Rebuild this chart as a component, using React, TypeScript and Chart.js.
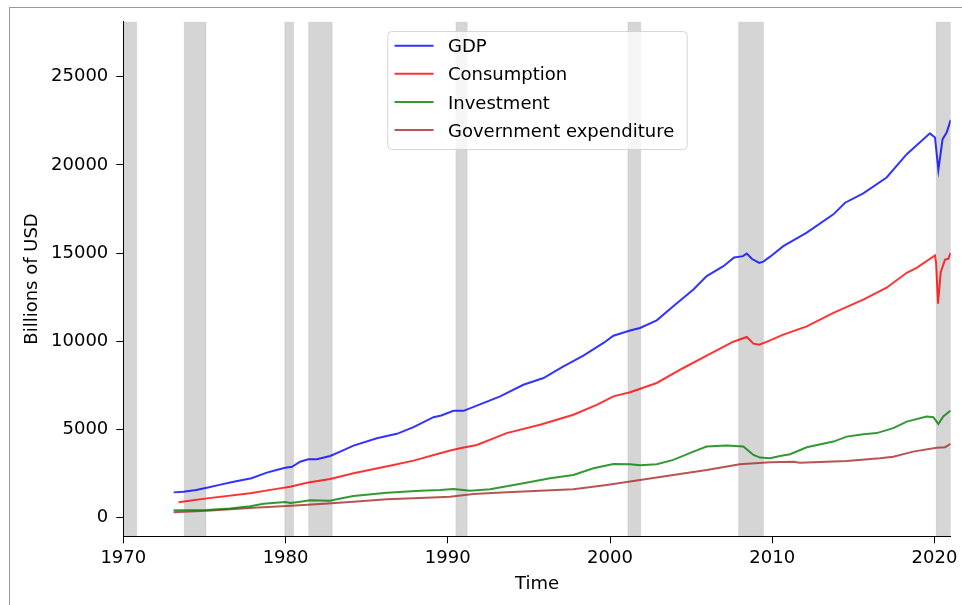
import React, { useEffect, useRef } from "react";
import { Chart, registerables } from "chart.js";

Chart.register(...registerables);

// Quarterly-ish readings, billions of USD: [year, value]
const gdp: [number, number][] = [
  [1973.1, 1440], [1973.7, 1480], [1974.5, 1570], [1975.15, 1700], [1976.0, 1880],
  [1976.8, 2040], [1977.9, 2240], [1978.85, 2560], [1979.5, 2720], [1979.98, 2840],
  [1980.4, 2890], [1980.9, 3180], [1981.4, 3320], [1981.93, 3320], [1982.75, 3500],
  [1983.37, 3750], [1984.19, 4090], [1985.63, 4510], [1986.86, 4760], [1987.89, 5140],
  [1989.12, 5700], [1989.6, 5800], [1990.35, 6060], [1990.97, 6060], [1991.79, 6360],
  [1993.23, 6880], [1994.66, 7540], [1995.9, 7920], [1997.13, 8580], [1998.36, 9190],
  [1999.6, 9910], [2000.21, 10320], [2001.24, 10620], [2001.85, 10760], [2002.88, 11190],
  [2003.9, 11990], [2005.14, 12940], [2005.96, 13700], [2006.99, 14260], [2007.65, 14760],
  [2008.2, 14830], [2008.43, 14980], [2008.74, 14680], [2009.2, 14450], [2009.45, 14520],
  [2009.87, 14800], [2010.68, 15400], [2012.13, 16160], [2013.77, 17200], [2014.49, 17860],
  [2015.61, 18390], [2017.05, 19290], [2018.29, 20610], [2019.72, 21790], [2020.03, 21560],
  [2020.24, 19720], [2020.5, 21460], [2020.75, 21840], [2021.0, 22560],
];

const consumption: [number, number][] = [
  [1973.41, 875], [1975.15, 1100], [1977.82, 1390], [1979.26, 1610], [1980.29, 1760],
  [1981.32, 1990], [1982.75, 2200], [1984.19, 2520], [1986.65, 2990], [1987.89, 3240],
  [1989.53, 3660], [1990.15, 3810], [1990.76, 3940], [1991.79, 4130], [1993.63, 4800],
  [1995.69, 5270], [1997.74, 5840], [1999.18, 6400], [2000.21, 6880], [2001.24, 7120],
  [2002.88, 7640], [2004.52, 8490], [2005.96, 9190], [2007.6, 9980], [2008.43, 10250],
  [2008.84, 9870], [2009.21, 9810], [2009.87, 10060], [2010.68, 10380], [2012.13, 10850],
  [2013.77, 11610], [2015.61, 12370], [2017.05, 13040], [2018.29, 13890], [2018.9, 14170],
  [2020.03, 14870], [2020.1, 14450], [2020.22, 12140], [2020.38, 13890], [2020.65, 14640],
  [2020.85, 14680], [2021.0, 15020],
];

const investment: [number, number][] = [
  [1973.1, 420], [1975.15, 440], [1976.59, 530], [1977.82, 650], [1978.64, 795],
  [1979.98, 890], [1980.29, 835], [1980.8, 900], [1981.52, 990], [1982.75, 965],
  [1983.16, 1045], [1984.19, 1230], [1986.24, 1420], [1988.3, 1530], [1989.53, 1575],
  [1990.35, 1630], [1991.38, 1535], [1992.61, 1615], [1994.66, 1955], [1996.31, 2240],
  [1997.74, 2430], [1998.98, 2810], [2000.21, 3050], [2001.24, 3035], [2001.85, 2980],
  [2002.88, 3035], [2003.9, 3280], [2005.14, 3750], [2005.96, 4035], [2007.2, 4090],
  [2008.22, 4035], [2008.84, 3560], [2009.25, 3410], [2009.87, 3375], [2010.48, 3505],
  [2011.1, 3600], [2012.13, 4000], [2013.77, 4320], [2014.59, 4600], [2015.61, 4740],
  [2016.44, 4800], [2017.46, 5080], [2018.29, 5450], [2019.52, 5740], [2019.93, 5700],
  [2020.24, 5320], [2020.54, 5740], [2021.0, 6080],
];

const government: [number, number][] = [
  [1973.1, 307], [1975.15, 400], [1978.03, 570], [1980.08, 665], [1982.14, 780],
  [1984.19, 910], [1986.24, 1045], [1988.3, 1120], [1990.15, 1195], [1991.58, 1345],
  [1993.63, 1440], [1995.69, 1535], [1997.74, 1615], [1999.8, 1860], [2001.85, 2140],
  [2003.9, 2425], [2005.96, 2710], [2008.0, 3035], [2009.87, 3150], [2011.3, 3180],
  [2011.7, 3125], [2014.59, 3220], [2016.64, 3375], [2017.46, 3465], [2018.69, 3750],
  [2020.13, 3975], [2020.65, 4000], [2021.0, 4190],
];

// Recession periods (start year, end year)
const recessionStarts = [1969.92, 1973.75, 1979.95, 1981.42, 1990.5, 2001.1, 2007.92, 2020.1];
const recessionEnds = [1970.83, 1975.1, 1980.5, 1982.88, 1991.2, 2001.9, 2009.46, 2021.0];

const xTickValues = [1970, 1980, 1990, 2000, 2010, 2020];
const yTickValues = [0, 5000, 10000, 15000, 20000, 25000];

const seriesLabels = ["GDP", "Consumption", "Investment", "Government expenditure"];
const seriesColors = [
  "rgba(0,0,255,0.8)",
  "rgba(255,0,0,0.8)",
  "rgba(0,128,0,0.8)",
  "rgba(165,42,42,0.8)",
];

const FONT = "'DejaVu Sans', 'Liberation Sans', sans-serif";

const recessionShading = {
  id: "recessionShading",
  beforeDraw(chart: any) {
    const { ctx, chartArea, scales } = chart;
    const x = scales.x;
    ctx.save();
    ctx.beginPath();
    ctx.rect(chartArea.left, chartArea.top, chartArea.right - chartArea.left, chartArea.bottom - chartArea.top);
    ctx.clip();
    recessionStarts.forEach((s, i) => {
      const x0 = x.getPixelForValue(s);
      const x1 = x.getPixelForValue(recessionEnds[i]);
      ctx.fillStyle = "rgba(128,128,128,0.33)";
      ctx.fillRect(x0, chartArea.top, x1 - x0, chartArea.bottom - chartArea.top);
      ctx.strokeStyle = "rgba(128,128,128,0.12)";
      ctx.lineWidth = 1;
      ctx.strokeRect(x0, chartArea.top, x1 - x0, chartArea.bottom - chartArea.top);
    });
    ctx.restore();
  },
};

const boxLegend = {
  id: "boxLegend",
  afterDraw(chart: any) {
    const { ctx, chartArea } = chart;
    const datasets = chart.data.datasets;
    ctx.save();
    ctx.font = `18px ${FONT}`;
    const textW = Math.max(...datasets.map((d: any) => ctx.measureText(d.label).width));
    const padL = 7.3;
    const handleLen = 39;
    const gap = 14.4;
    const padR = 12.5;
    const rowGap = 28.1;
    const w = padL + handleLen + gap + textW + padR;
    const h = 118;
    const left = (chartArea.left + chartArea.right) / 2 - w / 2;
    const top = chartArea.top + 9.3;

    ctx.beginPath();
    ctx.roundRect(left + 0.5, top + 0.5, w, h, 4);
    ctx.fillStyle = "rgba(255,255,255,0.8)";
    ctx.fill();
    ctx.strokeStyle = "rgba(204,204,204,0.8)";
    ctx.lineWidth = 1;
    ctx.stroke();

    datasets.forEach((d: any, i: number) => {
      const y = top + 14.7 + i * rowGap;
      ctx.beginPath();
      ctx.moveTo(left + padL, y);
      ctx.lineTo(left + padL + handleLen, y);
      ctx.strokeStyle = d.borderColor;
      ctx.lineWidth = 2;
      ctx.stroke();
      ctx.fillStyle = "#000";
      ctx.textBaseline = "alphabetic";
      ctx.textAlign = "left";
      ctx.fillText(d.label, left + padL + handleLen + gap, y + 6.6);
    });
    ctx.restore();
  },
};

export default function App() {
  const canvasRef = useRef<HTMLCanvasElement | null>(null);

  useEffect(() => {
    const canvas = canvasRef.current;
    if (!canvas) return;
    const allSeries = [gdp, consumption, investment, government];
    const chart = new Chart(canvas, {
      type: "line",
      data: {
        datasets: allSeries.map((s, i) => ({
          label: seriesLabels[i],
          data: s.map(([x, y]) => ({ x, y })),
          borderColor: seriesColors[i],
          backgroundColor: seriesColors[i],
          borderWidth: 2,
          pointRadius: 0,
          tension: 0,
          fill: false,
        })),
      },
      options: {
        responsive: false,
        animation: false,
        devicePixelRatio: 1,
        layout: { padding: { top: 21.7, right: 11.3, left: 0, bottom: 0 } },
        plugins: {
          legend: { display: false },
          tooltip: { enabled: false },
        },
        scales: {
          x: {
            type: "linear",
            min: 1970,
            max: 2021,
            afterBuildTicks: (scale: any) => {
              scale.ticks = xTickValues.map((v) => ({ value: v }));
            },
            afterFit: (scale: any) => {
              scale.height = 68.7;
            },
            ticks: {
              autoSkip: false,
              maxRotation: 0,
              padding: 4,
              color: "#000",
              font: { family: FONT, size: 18 },
              callback: (v: any) => String(v),
            },
            grid: {
              drawOnChartArea: false,
              drawTicks: true,
              tickLength: 7,
              tickColor: "#000",
              tickWidth: 1,
            },
            border: { display: true, color: "#000", width: 1 },
            title: {
              display: true,
              text: "Time",
              color: "#000",
              font: { family: FONT, size: 18 },
              padding: { top: 0, bottom: 9.6 },
            },
          },
          y: {
            type: "linear",
            min: -1050,
            max: 28120,
            afterBuildTicks: (scale: any) => {
              scale.ticks = yTickValues.map((v) => ({ value: v }));
            },
            afterFit: (scale: any) => {
              scale.width = 123.3;
            },
            ticks: {
              autoSkip: false,
              padding: 8,
              color: "#000",
              font: { family: FONT, size: 18 },
              callback: (v: any) => String(v),
            },
            grid: {
              drawOnChartArea: false,
              drawTicks: true,
              tickLength: 7,
              tickColor: "#000",
              tickWidth: 1,
            },
            border: { display: true, color: "#000", width: 1 },
            title: {
              display: true,
              text: "Billions of USD",
              color: "#000",
              font: { family: FONT, size: 18 },
              padding: { top: 22, bottom: 0 },
            },
          },
        },
      },
      plugins: [recessionShading, boxLegend],
    });
    return () => chart.destroy();
  }, []);

  return (
    <div style={{ position: "absolute", left: 0, top: 0, width: 962, height: 605, background: "#fff" }}>
      <div
        style={{
          position: "absolute",
          left: 9,
          top: 7,
          right: 0,
          bottom: 0,
          borderTop: "1px solid #9a9a9a",
          borderLeft: "1px solid #9a9a9a",
        }}
      />
      <canvas ref={canvasRef} width={962} height={605} style={{ position: "absolute", left: 0, top: 0 }} />
    </div>
  );
}
